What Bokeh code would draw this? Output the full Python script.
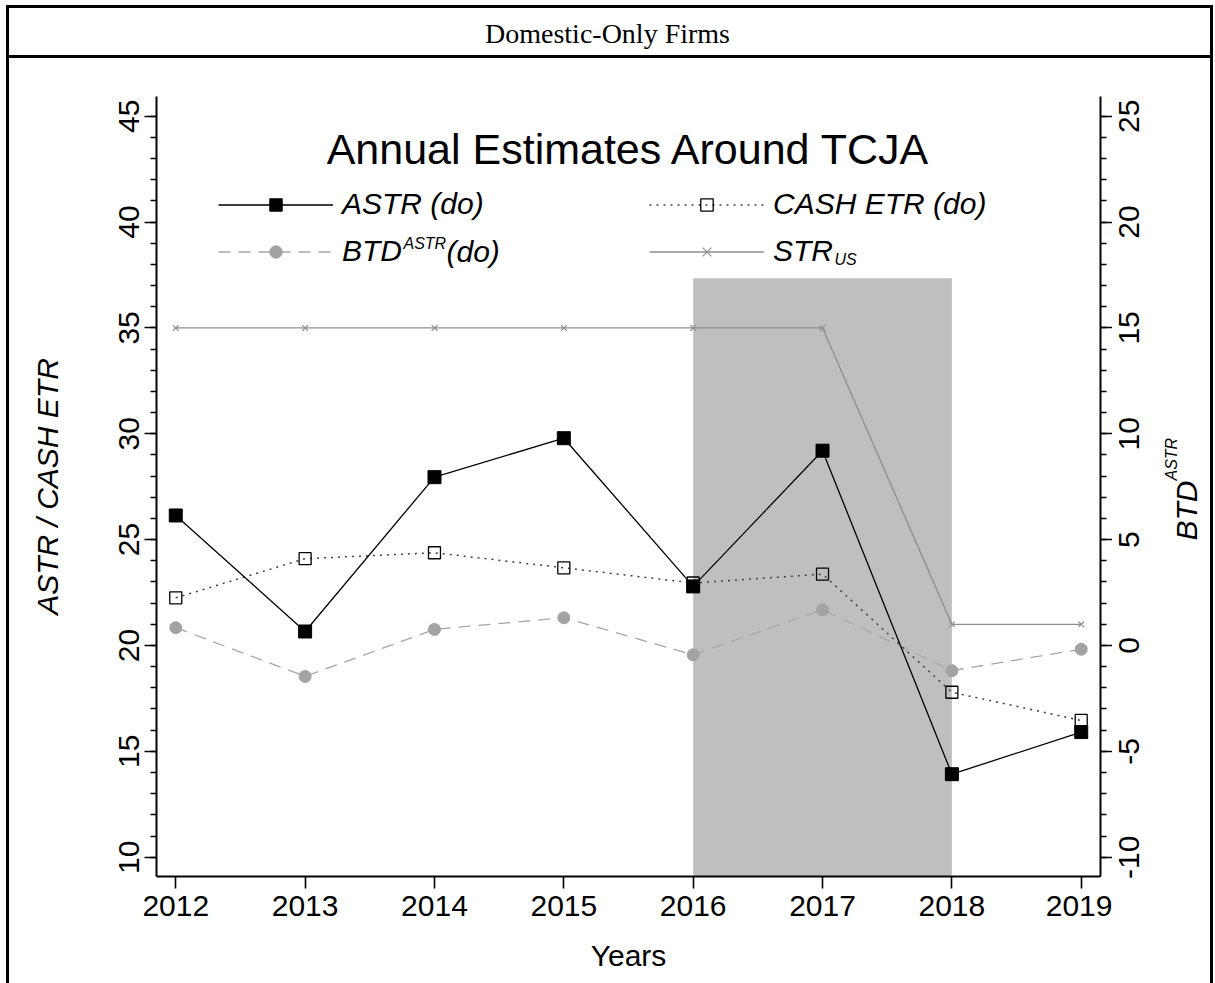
import math
from bokeh.plotting import figure
from bokeh.models import (Range1d, LinearAxis, FixedTicker, Label, Legend, LegendItem, Div)
from bokeh.layouts import row, column
from bokeh.embed import file_html
from bokeh.resources import INLINE

# ---------------- data ----------------
years = [2012, 2013, 2014, 2015, 2016, 2017, 2018, 2019]
year_labels = ["2012", "2013", "2014", "2015", "2016", "2017", "2018", "2019"]
astr = [26.14, 20.66, 27.95, 29.79, 22.79, 29.20, 13.92, 15.91]
cash_etr = [22.25, 24.10, 24.38, 23.67, 22.95, 23.37, 17.79, 16.46]
btd_astr = [0.84, -1.46, 0.76, 1.31, -0.44, 1.69, -1.19, -0.18]
str_us = [35, 35, 35, 35, 35, 35, 21, 21]
shade_start = [2016]
shade_end = [2018]
shade_top = [37.35]
left_ticks = [10, 15, 20, 25, 30, 35, 40, 45]
right_ticks = [-10, -5, 0, 5, 10, 15, 20, 25]
right_tick_labels = ["-10", "-5", "0", "5", "10", "15", "20", "25"]

FONT = "Liberation Sans"
SERIF = "Liberation Serif"

# page geometry (pixels)
TABLE_LEFT, TABLE_TOP = 6, 5
RULE = 3
HEADER_H = 47
INNER_W = 1201
MAIN_W = 1103         # main plot canvas (ends right after the right-axis ticks)
TICK_W = 46           # canvas holding right-axis tick labels
YLAB_W = INNER_W - MAIN_W - TICK_W
BODY_H = 925
FRAME_LEFT = 156      # page x of the plot frame's left edge
FRAME_BOTTOM = 876    # page y of the plot frame's bottom edge
BORDER_TOP, BORDER_BOTTOM = 38, 107


def fx(px):
    return px - FRAME_LEFT


def fy(py):
    return FRAME_BOTTOM - py


y_range = Range1d(9.088, 45.93)
btd_range = Range1d(9.088 - 20, 45.93 - 20)

# ---------------- main plot ----------------
p = figure(width=MAIN_W, height=BODY_H,
           x_range=Range1d(2011.851, 2019.149), y_range=y_range,
           output_backend="svg", toolbar_location=None,
           min_border_left=147, min_border_right=12,
           min_border_top=BORDER_TOP, min_border_bottom=BORDER_BOTTOM)
p.extra_y_ranges = {"btd": btd_range}
p.outline_line_color = None
p.grid.visible = False
p.background_fill_color = "white"
p.border_fill_color = "white"

# shaded TCJA window
p.quad(left=shade_start, right=shade_end, bottom=[0], top=shade_top,
       fill_color="#bfbfbf", line_color=None)

# STR_US
r_str_l = p.line(years, str_us, line_color="#8f8f8f", line_width=1.3)
r_str_p = p.scatter(years, str_us, marker="x", size=8, line_color="#8f8f8f", line_width=1.2)

# BTD (right axis)
r_btd_l = p.line(years, btd_astr, y_range_name="btd", line_color="#a6a6a6",
                 line_width=1.3, line_dash="12 8")
r_btd_p = p.scatter(years, btd_astr, y_range_name="btd", marker="circle", size=12,
                    fill_color="#a3a3a3", line_color="#a3a3a3")

# CASH ETR
r_cash_l = p.line(years, cash_etr, line_color="#404040", line_width=1.5, line_dash="2 5")
r_cash_p = p.scatter(years, cash_etr, marker="square", size=12, fill_alpha=0,
                     line_color="black", line_width=1.3)

# ASTR
r_astr_l = p.line(years, astr, line_color="black", line_width=1.3)
r_astr_p = p.scatter(years, astr, marker="square", size=13, fill_color="black",
                     line_color="black")

# ---------------- axes ----------------
xa = p.xaxis[0]
xa.ticker = FixedTicker(ticks=years)
xa.major_label_overrides = {y: l for y, l in zip(years, year_labels)}
xa.major_label_text_font = FONT
xa.major_label_text_font_size = "30px"
xa.major_label_standoff = 7
xa.minor_tick_line_color = None
xa.axis_label = "Years"
xa.axis_label_text_font = FONT
xa.axis_label_text_font_size = "30px"
xa.axis_label_text_font_style = "normal"
xa.axis_label_standoff = 20

ya = p.yaxis[0]
ya.ticker = FixedTicker(ticks=left_ticks, minor_ticks=list(range(10, 46)))
ya.axis_label = "ASTR / CASH ETR"
ya.axis_label_text_font = FONT
ya.axis_label_text_font_size = "30px"
ya.axis_label_text_font_style = "italic"
ya.axis_label_standoff = 53
ya.major_label_text_font = FONT
ya.major_label_text_font_size = "30px"
ya.major_label_orientation = "vertical"
ya.major_label_standoff = 5

# right axis: line and ticks here, its labels are drawn on the next canvas
ra = LinearAxis(y_range_name="btd",
                ticker=FixedTicker(ticks=right_ticks, minor_ticks=list(range(-10, 26))))
ra.major_label_overrides = {t: "" for t in right_ticks}
ra.major_label_text_font_size = "0px"
ra.major_label_standoff = 0
p.add_layout(ra, "right")

for ax in (xa, ya, ra):
    ax.axis_line_color = "black"
    ax.axis_line_width = 2
    ax.major_tick_line_color = "black"
    ax.major_tick_line_width = 1.6
    ax.major_tick_in = 0
    ax.major_tick_out = 12
    ax.major_label_text_color = "black"
    ax.axis_label_text_color = "black"
for ax in (ya, ra):
    ax.minor_tick_line_color = "black"
    ax.minor_tick_line_width = 1.4
    ax.minor_tick_in = 0
    ax.minor_tick_out = 6


def add_text(fig, text, x, y, size, style="normal", angle=0.0, align="left", font=FONT):
    fig.add_layout(Label(x=x, y=y, x_units="screen", y_units="screen",
                         text=text, angle=angle, text_font=font,
                         text_font_style=style, text_font_size=size,
                         text_baseline="middle", text_align=align, text_color="black"))


# title inside plot
add_text(p, "Annual Estimates Around TCJA", fx(628.5), fy(148), "43px", align="center")

# ---------------- legend ----------------
legend = Legend(items=[
    LegendItem(label="ASTR (do)", renderers=[r_astr_l, r_astr_p]),
    LegendItem(label="BTD", renderers=[r_btd_l, r_btd_p]),
    LegendItem(label="CASH ETR (do)", renderers=[r_cash_l, r_cash_p]),
    LegendItem(label="STR", renderers=[r_str_l, r_str_p]),
], ncols=2, orientation="vertical", location=(fx(218), fy(268)),
    glyph_width=115, glyph_height=31, label_standoff=9, label_width=294,
    label_height=31, spacing=13, padding=0, margin=0,
    border_line_color=None, background_fill_alpha=0,
    label_text_font=FONT, label_text_font_style="italic",
    label_text_font_size="30px", label_text_color="black")
p.add_layout(legend)

# superscript / subscript parts of legend labels
add_text(p, "ASTR", fx(403), fy(243), "16px", style="italic")
add_text(p, "(do)", fx(446), fy(251), "30px", style="italic")
add_text(p, "US", fx(834), fy(259), "16px", style="italic")


def blank(width, height, y_rng=None, left=0, top=0, bottom=0):
    f = figure(width=width, height=height, x_range=Range1d(0, 1),
               y_range=y_rng if y_rng is not None else Range1d(0, 1),
               output_backend="svg", toolbar_location=None,
               x_axis_type=None, y_axis_type=None,
               min_border_left=left, min_border_right=0,
               min_border_top=top, min_border_bottom=bottom)
    f.outline_line_color = None
    f.grid.visible = False
    f.background_fill_color = "white"
    f.border_fill_color = "white"
    return f


# ---------------- right-axis tick labels (reading upward, centred on ticks) -------------
ticklab = blank(TICK_W, BODY_H, y_rng=btd_range, left=TICK_W - 2,
                top=BORDER_TOP, bottom=BORDER_BOTTOM)
rl = LinearAxis(ticker=FixedTicker(ticks=right_ticks))
rl.major_label_overrides = {t: l for t, l in zip(right_ticks, right_tick_labels)}
rl.major_label_text_font = FONT
rl.major_label_text_font_size = "30px"
rl.major_label_text_color = "black"
rl.major_label_orientation = "vertical"
rl.major_label_standoff = 17
rl.axis_line_color = None
rl.major_tick_line_color = None
rl.minor_tick_line_color = None
rl.major_tick_out = 0
rl.major_tick_in = 0
ticklab.add_layout(rl, "left")

# ---------------- right axis title (own narrow canvas) ----------------
YLAB_LEFT = TABLE_LEFT + RULE + MAIN_W + TICK_W   # page x where it starts
BODY_BOTTOM = TABLE_TOP + RULE + HEADER_H + RULE + BODY_H
ROT_SHIFT = 108   # empirical correction for rotated labels on this canvas

ylab = blank(YLAB_W, BODY_H)
add_text(ylab, "BTD", 1186 - YLAB_LEFT, BODY_BOTTOM - (539 + ROT_SHIFT), "30px",
         style="italic", angle=math.pi / 2)
add_text(ylab, "ASTR", 1171 - YLAB_LEFT, BODY_BOTTOM - (479 + ROT_SHIFT), "16px",
         style="italic", angle=math.pi / 2)

# ---------------- table header ----------------
HEAD_LEFT = TABLE_LEFT + RULE
HEAD_BOTTOM = TABLE_TOP + RULE + HEADER_H
head = blank(INNER_W, HEADER_H)
add_text(head, "Domestic-Only Firms", 607 - HEAD_LEFT, HEAD_BOTTOM - 33, "28px",
         align="center", font=SERIF)

# ---------------- table rules / layout ----------------
bar = {"background-color": "black"}
full_h = RULE + HEADER_H + RULE + BODY_H
top_pad = Div(text="", width=TABLE_LEFT + RULE + INNER_W + RULE, height=TABLE_TOP, margin=0)
left_pad = Div(text="", width=TABLE_LEFT, height=full_h, margin=0)
left_bar = Div(text="", width=RULE, height=full_h, margin=0, styles=bar)
right_bar = Div(text="", width=RULE, height=full_h, margin=0, styles=bar)
top_line = Div(text="", width=INNER_W, height=RULE, margin=0, styles=bar)
sep_line = Div(text="", width=INNER_W, height=RULE, margin=0, styles=bar)

inner = column(top_line, head, sep_line, row(p, ticklab, ylab, spacing=0), spacing=0)
layout = column(top_pad, row(left_pad, left_bar, inner, right_bar, spacing=0), spacing=0)

open("out.html", "w").write(file_html(layout, INLINE))
